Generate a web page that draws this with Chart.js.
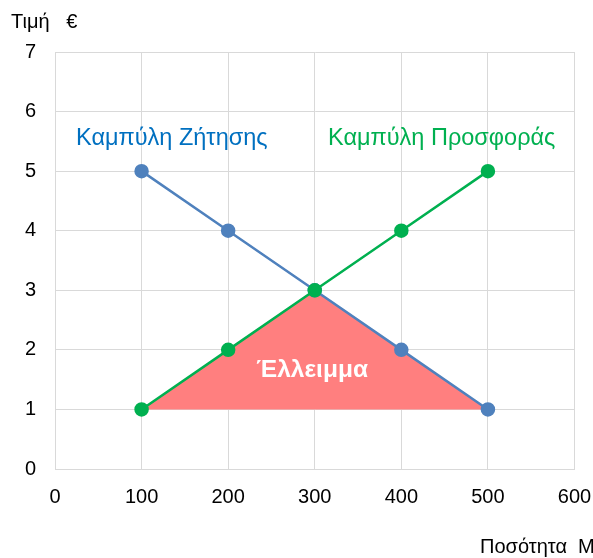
<!DOCTYPE html>
<html>
<head>
<meta charset="utf-8">
<script src="https://cdn.jsdelivr.net/npm/chart.js@4.4.1/dist/chart.umd.min.js"></script>
<style>
  html, body { margin: 0; padding: 0; background: #fff; }
  #wrap { width: 593px; height: 558px; }
</style>
</head>
<body>
<div id="wrap"><canvas id="myChart"></canvas></div>
<script>
// quantities and prices
const quantities = [100, 200, 300, 400, 500];
const demandPrices = [5, 4, 3, 2, 1];
const supplyPrices = [1, 2, 3, 4, 5];

// shortage triangle (between supply and demand, above price 1)
const shortageQty = [100, 300, 500];
const shortagePrice = [1, 3, 1];

const xTicks = [0, 100, 200, 300, 400, 500, 600];
const yTicks = [0, 1, 2, 3, 4, 5, 6, 7];

const yTitle = "Τιμή   €";
const xTitle = "Ποσότητα  Μ";
const demandLabel = "Καμπύλη Ζήτησης";
const supplyLabel = "Καμπύλη Προσφοράς";
const shortageLabel = "Έλλειμμα";

const FONT = "'Liberation Sans', Arial, sans-serif";
const gridColor = "#d9d9d9";

function pts(xs, ys) {
  return xs.map((x, i) => ({ x: x, y: ys[i] }));
}

// text on top of the chart
const labelsPlugin = {
  id: "labels",
  afterDraw(chart) {
    const ctx = chart.ctx;
    const xs = chart.scales.x;
    const ys = chart.scales.y;
    ctx.save();
    ctx.textBaseline = "middle";

    ctx.font = "20px " + FONT;
    ctx.fillStyle = "#000";
    ctx.textAlign = "left";
    ctx.fillText(yTitle, 11, 22);
    ctx.fillText(xTitle, 480, 547);

    ctx.font = "23.5px " + FONT;
    ctx.fillStyle = "#0070c0";
    ctx.fillText(demandLabel, 76, ys.getPixelForValue(5.55));
    ctx.fillStyle = "#00b050";
    ctx.fillText(supplyLabel, 328, ys.getPixelForValue(5.55));

    ctx.font = "bold 24.5px " + FONT;
    ctx.fillStyle = "#fff";
    ctx.textAlign = "center";
    ctx.fillText(shortageLabel, xs.getPixelForValue(297), ys.getPixelForValue(1.65));
    ctx.restore();
  },
};

const data = {
  datasets: [
    {
      label: "supply",
      data: pts(quantities, supplyPrices),
      borderColor: "#00b050",
      backgroundColor: "#00b050",
      borderWidth: 2.5,
      pointRadius: 6,
      pointHoverRadius: 6,
      showLine: true,
    },
    {
      label: "demand",
      data: pts(quantities, demandPrices),
      borderColor: "#4f81bd",
      backgroundColor: "#4f81bd",
      borderWidth: 2.5,
      pointRadius: 6,
      pointHoverRadius: 6,
      showLine: true,
    },
    {
      label: "shortage",
      data: pts(shortageQty, shortagePrice),
      borderWidth: 0,
      borderColor: "rgba(0,0,0,0)",
      backgroundColor: "#ff7f7f",
      pointRadius: 0,
      showLine: true,
      fill: { value: 1 },
    },
  ],
};

const config = {
  type: "scatter",
  data: data,
  options: {
    responsive: true,
    maintainAspectRatio: false,
    animation: false,
    layout: {
      padding: { top: 52, right: 18.5, left: 0, bottom: 0 },
    },
    scales: {
      x: {
        min: 0,
        max: 600,
        afterBuildTicks: (s) => { s.ticks = xTicks.map((v) => ({ value: v })); },
        afterFit: (s) => { s.height = 89; s.paddingLeft = 0; s.paddingRight = 0; },
        grid: { color: gridColor, drawTicks: false },
        border: { color: gridColor },
        ticks: {
          padding: 16,
          color: "#000",
          font: { family: FONT, size: 20 },
        },
      },
      y: {
        min: 0,
        max: 7,
        afterBuildTicks: (s) => { s.ticks = yTicks.map((v) => ({ value: v })); },
        afterFit: (s) => { s.width = 55; s.paddingTop = 0; s.paddingBottom = 0; },
        grid: { color: gridColor, drawTicks: false },
        border: { color: gridColor },
        ticks: {
          padding: 19,
          color: "#000",
          font: { family: FONT, size: 20 },
        },
      },
    },
    plugins: {
      legend: { display: false },
      tooltip: { enabled: false },
    },
  },
  plugins: [labelsPlugin],
};

const myChart = new Chart(document.getElementById("myChart"), config);
</script>
</body>
</html>
